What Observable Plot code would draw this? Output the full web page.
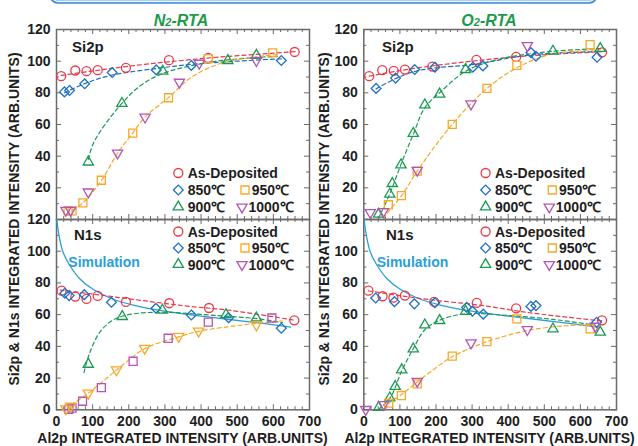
<!DOCTYPE html>
<html><head><meta charset="utf-8">
<script src="https://cdn.jsdelivr.net/npm/d3@7"></script>
<script src="https://cdn.jsdelivr.net/npm/@observablehq/plot@0.6"></script>
<style>
body{margin:0;background:#fff;}
#wrap{position:relative;width:638px;height:446px;overflow:hidden;}
#wrap svg{position:absolute;left:0;top:0;}
</style></head><body><div id="wrap"></div>
<script>
// ---------- tick values ----------
const xMajor = [0, 100, 200, 300, 400, 500, 600, 700];
const xTickLabels = [0, 100, 200, 300, 400, 500, 600, 700];
const yTickLabelsTop = [20, 40, 60, 80, 100, 120];
const yTickLabelsBottom = [0, 20, 40, 60, 80, 100, 120];
const yMajor = [0, 20, 40, 60, 80, 100, 120];

// ---------- N2-RTA, Si2p ----------
const n2SiAsDep = [[13,90.5],[52,94.1],[83,93.7],[114,94.3],[192,95.8],[311,100.6],[420,102],[659,105.8]];
const n2Si850 = [[22,80.6],[36,81.5],[78,85.7],[154,92.8],[276,94.5],[373,97.3],[622,100.4]];
const n2Si900 = [[88,36.3],[181,73.3],[294,93.7],[474,100.4],[553,103.7]];
const n2Si950 = [[32,5.5],[43,5.5],[73,10.5],[124,24.8],[211,54.6],[310,76.9],[420,101.6],[598,105.2]];
const n2Si1000 = [[26,5.8],[39,5.8],[88,17.4],[169,42],[245,64.7],[340,86.7],[395,98.7],[553,100.4]];
const n2SiFitAs = [[13,91],[100,93.8],[200,96.8],[310,99.6],[450,102.6],[660,106]];
const n2SiFit850 = [[22,80],[80,86],[150,91],[280,95.5],[400,98.5],[622,101.5]];
const n2SiFit900 = [[88,38],[100,47],[122,56],[181,73.3],[232,84.5],[294,92.2],[398,98.3],[491,101.2],[611,103.1]];
const n2SiFitHot = [[28,3.4],[73,10.5],[124,24.5],[169,42],[211,54.6],[245,64.7],[310,77],[371,89.5],[445,97.9],[527,102],[611,104.2]];

// ---------- O2-RTA, Si2p ----------
const o2SiAsDep = [[15,90.5],[51,94.3],[83,93.9],[114,94.7],[190,96.6],[312,100.8],[422,102.7],[660,105.6]];
const o2Si850 = [[34,82.8],[88,89.3],[141,94.7],[197,96.2],[302,96.2],[330,97],[463,105.4],[477,103.1],[646,102.5]];
const o2Si900 = [[41,3.4],[72,16],[79,22.7],[103,34.5],[137,54.4],[169,72.4],[210,79.2],[282,94.7],[524,106.3],[655,108]];
const o2Si950 = [[68,9.3],[104,15.1],[148,30.5],[245,60.1],[341,82.8],[424,97.4],[627,110.5]];
const o2Si1000 = [[18,4.4],[54,5],[148,31.1],[297,73],[453,109.8]];
const o2SiFitAs = [[15,90.5],[100,94],[200,97.3],[320,100.5],[450,103.3],[660,106]];
const o2SiFit850 = [[34,82.5],[88,89],[141,93.5],[200,95.8],[300,97.8],[463,104],[646,106]];
const o2SiFit900 = [[41,1],[72,16.2],[103,34.8],[137,53.8],[169,70.6],[210,80],[282,93.6],[369,100.9],[498,105.7],[655,108]];
const o2SiFitHot = [[55,0.5],[68,5],[104,14.8],[148,30.6],[245,60.1],[341,82.8],[424,95.8],[517,104.2],[655,107.3]];

// ---------- N2-RTA, N1s ----------
const n2NAsDep = [[14,75.1],[52,71.4],[83,69.9],[114,71.8],[192,68],[312,67.2],[422,64.2],[658,56.4]];
const n2N850 = [[23,73.5],[35,72],[77,72.6],[152,67.8],[275,64],[373,59.8],[476,58.1],[622,51.4]];
const n2N900 = [[88,28.7],[182,58.8],[293,62.8],[469,60],[553,57.9]];
const n2N950 = [[34,0.3],[43,1],[72,5.4],[124,14],[212,30.6],[309,45.1],[420,55.3],[596,57.9]];
const n2N1000 = [[26,0.6],[39,2.3],[88,10.5],[166,25.2],[244,38.8],[338,46.3],[393,49.6],[553,53.5]];
const n2NFitAs = [[10,75.5],[100,73],[200,70],[350,65.7],[487,62.5],[658,56.5]];
const n2NFit900 = [[76,23.5],[92,36],[120,49],[152,56],[182,59],[231,61],[295,61.5],[349,61],[441,59.5],[553,57.5],[625,55]];
const n2NFitHot = [[27,0],[39,2.5],[88,10.5],[166,25],[244,38.5],[338,46],[393,49.5],[480,52.5],[553,54.5],[625,56]];

// ---------- O2-RTA, N1s ----------
const o2NAsDep = [[13,75.1],[52,71.6],[82,70.7],[114,72],[195,68],[313,67.4],[422,64],[660,56.4]];
const o2N850 = [[33,70.5],[85,68.2],[140,66.8],[197,67.5],[285,64.6],[301,62.1],[331,60.3],[463,65.2],[477,65.7],[645,55.2]];
const o2N900 = [[41.5,1.6],[72,7.5],[87,14.7],[105,25.2],[137,38.4],[169,53.5],[210,56.3],[282,62.1],[524,51],[655,48.9]];
const o2N950 = [[69,4.2],[104,9],[148,16.4],[245,33.8],[341,43],[424,57.3],[627,51]];
const o2N1000 = [[5.5,0.2],[54.5,3.3],[148,18],[297,42.2],[453,50.6],[641,52.7]];
const o2NFitAs = [[13,75],[100,72],[200,69],[320,66],[450,61.5],[560,58.5],[660,56]];
const o2NFit900 = [[40,0],[74,8],[105,24.5],[137,38.5],[169,50.5],[210,56.5],[282,60.5],[400,59.5],[524,57],[640,53.5]];
const o2NFitHot = [[60,0],[69,4],[104,9.5],[148,17.5],[200,26.5],[245,33.5],[297,39],[341,43],[453,50],[560,53],[630,53.5]];

// ---------- simulation curve (N1s) ----------
const simN = [[1,120],[7,110],[18,99.5],[37,91],[65,82.5],[101,76],[148,70.5],[212,66],[277,63],[351,60.5],[441,58],[533,55.5],[648,52.2]];

// ---------- legend labels ----------
const legendLabels = ["As-Deposited", "850℃", "950℃", "900℃", "1000℃"];

// ---------- styling ----------
const W = 638, H = 446;
const FONT = '"Liberation Sans", Arial, Helvetica, sans-serif';
const C = {red:"#e83a4a", blue:"#1f70c2", green:"#1c9a55", orange:"#f6a82a", purple:"#b455b8", sim:"#2a9ed8", title:"#1e9a4c", frame:"#6a6a6a", text:"#1e1e1e"};
const invTri = {draw(ctx, size){const s=Math.sqrt(size)*0.6824,t=s/2,u=s*Math.sqrt(3)/2;ctx.moveTo(0,s);ctx.lineTo(u,-t);ctx.lineTo(-u,-t);ctx.closePath();}};
const SYM = {
  circle:{symbol:"circle", r:4.5},
  diamond:{symbol:"diamond2", r:4.4},
  square:{symbol:"square2", r:5.1},
  tri:{symbol:"triangle2", r:4.9},
  inv:{symbol:invTri, r:4.9}
};
const LX = {x0:56, x1:309}, RX = {x0:363.3, x1:616};
const TY = {y0:29, y1:219}, BY = {y0:219, y1:409.3};

function panel(X, Y, cfg) {
  const fw = X.x1 - X.x0, fh = Y.y1 - Y.y0;
  const xMin = d3.range(0, 701, 20).filter(v => v % 100 !== 0);
  const yMin = d3.range(10, 120, 20);
  const tk = {stroke: C.frame, strokeWidth: 1};
  const marks = [
    Plot.tickX(xMajor, {x: d => d, ...tk, insetTop: fh - 5}),
    Plot.tickX(xMin, {x: d => d, ...tk, insetTop: fh - 3}),
    Plot.tickX(xMajor, {x: d => d, ...tk, insetBottom: fh - 5}),
    Plot.tickX(xMin, {x: d => d, ...tk, insetBottom: fh - 3}),
    Plot.tickY(yMajor, {y: d => d, ...tk, insetRight: fw - 5}),
    Plot.tickY(yMin, {y: d => d, ...tk, insetRight: fw - 3}),
    Plot.tickY(yMajor, {y: d => d, ...tk, insetLeft: fw - 5}),
    Plot.tickY(yMin, {y: d => d, ...tk, insetLeft: fw - 3}),
    Plot.frame({stroke: C.frame, strokeWidth: 1.5}),
    Plot.axisY(cfg.yLabels, {anchor: "left", tickSize: 0, tickPadding: 6, label: null, fontSize: 14, fontWeight: "bold"})
  ];
  if (cfg.xLabels) marks.push(Plot.axisX(cfg.xLabels, {anchor: "bottom", tickSize: 0, tickPadding: 6.5, label: null, fontSize: 14, fontWeight: "bold"}));
  if (cfg.sim) marks.push(Plot.line(cfg.sim, {x: d => d[0], y: d => d[1], stroke: C.sim, strokeWidth: 1.3, curve: "catmull-rom", clip: true}));
  for (const f of cfg.fits) marks.push(Plot.line(f.data, {x: d => d[0], y: d => d[1], stroke: f.color, strokeWidth: 1.2, strokeDasharray: "4,3", curve: "catmull-rom", clip: true}));
  for (const s of cfg.series) marks.push(Plot.dot(s.data, {x: d => d[0], y: d => d[1], symbol: SYM[s.sym].symbol, r: SYM[s.sym].r, stroke: s.color, strokeWidth: 1.3, fill: "none"}));
  return Plot.plot({
    width: W, height: H,
    marginLeft: X.x0, marginRight: W - X.x1, marginTop: Y.y0, marginBottom: H - Y.y1,
    x: {domain: [0, 700], axis: cfg.xLabels ? undefined : null},
    y: {domain: [0, 120]},
    style: {background: "none", overflow: "visible", fontFamily: FONT, fontSize: "14px", fontWeight: "bold", color: C.text},
    marks
  });
}

const wrap = document.getElementById("wrap");
const fitsSi = (a, b, c, d) => [{data:a,color:C.red},{data:b,color:C.blue},{data:c,color:C.green},{data:d,color:C.orange}];
wrap.appendChild(panel(LX, TY, {yLabels: yTickLabelsTop, fits: fitsSi(n2SiFitAs, n2SiFit850, n2SiFit900, n2SiFitHot), series: [
  {data:n2SiAsDep, sym:"circle", color:C.red},{data:n2Si850, sym:"diamond", color:C.blue},{data:n2Si900, sym:"tri", color:C.green},
  {data:n2Si950, sym:"square", color:C.orange},{data:n2Si1000, sym:"inv", color:C.purple}]}));
wrap.appendChild(panel(RX, TY, {yLabels: yTickLabelsTop, fits: fitsSi(o2SiFitAs, o2SiFit850, o2SiFit900, o2SiFitHot), series: [
  {data:o2SiAsDep, sym:"circle", color:C.red},{data:o2Si850, sym:"diamond", color:C.blue},{data:o2Si900, sym:"tri", color:C.green},
  {data:o2Si950, sym:"square", color:C.orange},{data:o2Si1000, sym:"inv", color:C.purple}]}));
wrap.appendChild(panel(LX, BY, {yLabels: yTickLabelsBottom, xLabels: xTickLabels, sim: simN,
  fits: [{data:n2NFitAs,color:C.red},{data:n2NFit900,color:C.green},{data:n2NFitHot,color:C.orange}], series: [
  {data:n2NAsDep, sym:"circle", color:C.red},{data:n2N850, sym:"diamond", color:C.blue},{data:n2N900, sym:"tri", color:C.green},
  {data:n2N950, sym:"square", color:C.purple},{data:n2N1000, sym:"inv", color:C.orange}]}));
wrap.appendChild(panel(RX, BY, {yLabels: yTickLabelsBottom, xLabels: xTickLabels, sim: simN,
  fits: [{data:o2NFitAs,color:C.red},{data:o2NFit900,color:C.green},{data:o2NFitHot,color:C.orange}], series: [
  {data:o2NAsDep, sym:"circle", color:C.red},{data:o2N850, sym:"diamond", color:C.blue},{data:o2N900, sym:"tri", color:C.green},
  {data:o2N950, sym:"square", color:C.orange},{data:o2N1000, sym:"inv", color:C.purple}]}));

// ---------- overlay: banner, titles, axis titles, legends ----------
const ov = d3.create("svg").attr("width", W).attr("height", H)
  .style("font-family", FONT).style("font-weight", "bold").style("overflow", "visible");
ov.append("rect").attr("x", 50).attr("y", -20).attr("width", 547).attr("height", 23).attr("rx", 8)
  .attr("fill", "#e9f3fb").attr("stroke", "#3a86d2").attr("stroke-width", 1.6);
ov.append("line").attr("x1", 56).attr("x2", 591).attr("y1", 0.5).attr("y2", 0.5).attr("stroke", "#a9d0f0").attr("stroke-width", 1);

function title(cx, letter) {
  const t = ov.append("text").attr("x", cx).attr("y", 26).attr("text-anchor", "middle")
    .attr("font-size", 16).attr("font-style", "italic").attr("fill", C.title);
  t.append("tspan").text(letter);
  t.append("tspan").attr("font-size", 11).text("2");
  t.append("tspan").text("-RTA");
}
title(181, "N");
title(489, "O");

for (const cx of [14, 324]) {
  ov.append("text").attr("transform", `translate(${cx},219) rotate(-90)`).attr("text-anchor", "middle")
    .attr("dy", "0.36em").attr("font-size", 14).attr("fill", C.text).text("Si2p & N1s INTEGRATED INTENSITY (ARB.UNITS)");
}
for (const cx of [182.5, 489.6]) {
  ov.append("text").attr("x", cx).attr("y", 443).attr("text-anchor", "middle").attr("font-size", 14)
    .attr("fill", C.text).text("Al2p INTEGRATED INTENSITY (ARB.UNITS)");
}
const lab = (x, y, s, col = C.text, fs = 15) => ov.append("text").attr("x", x).attr("y", y).attr("font-size", fs).attr("fill", col).text(s);
lab(72, 51.5, "Si2p"); lab(382, 51.5, "Si2p");
lab(74, 240, "N1s"); lab(386, 240, "N1s");
lab(68.3, 267, "Simulation", C.sim, 14); lab(376.7, 266.7, "Simulation", C.sim, 14);

function sym(x, y, key, color) {
  const s = SYM[key];
  const type = key === "inv" ? invTri : ({circle: d3.symbolCircle, diamond: d3.symbolDiamond2, square: d3.symbolSquare2, tri: d3.symbolTriangle2})[key];
  ov.append("path").attr("transform", `translate(${x},${y})`).attr("d", d3.symbol(type, Math.PI * s.r * s.r)())
    .attr("fill", "none").attr("stroke", color).attr("stroke-width", 1.3);
}
function legend(x0, b) {
  const rows = [
    [122.3, 131.7, b[0], "circle", C.red, legendLabels[0]],
    [122.3, 131.7, b[1], "diamond", C.blue, legendLabels[1]],
    [189, 195.7, b[1], "square", C.orange, legendLabels[2]],
    [122.3, 131.7, b[2], "tri", C.green, legendLabels[3]],
    [186, 192.5, b[2], "inv", C.purple, legendLabels[4]]
  ];
  for (const [sx, tx, y, k, col, text] of rows) {
    sym(x0 + sx, y - 5, k, col);
    ov.append("text").attr("x", x0 + tx).attr("y", y).attr("font-size", 14).attr("fill", C.text).text(text);
  }
}
legend(56, [178, 195, 212]);
legend(363.3, [178, 195, 212]);
legend(56, [236.5, 253, 269.5]);
legend(363.3, [236.5, 253, 269.5]);
wrap.appendChild(ov.node());
</script></body></html>
